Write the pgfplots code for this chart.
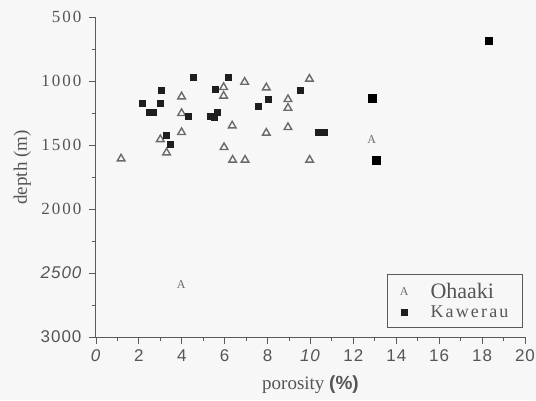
\documentclass[border=0pt]{standalone}
\usepackage{pgfplots}
\pgfplotsset{compat=1.18}
\usepackage{fontspec}
\setmainfont{Liberation Serif}
\setsansfont{Liberation Sans}
\newfontfamily\spaced[LetterSpace=12]{Liberation Serif}
\newfontfamily\spacedsans[LetterSpace=6]{Liberation Sans}
\definecolor{bgc}{HTML}{F7F7F7}
\definecolor{txt}{HTML}{555555}
\definecolor{axc}{HTML}{5A5A5A}
\definecolor{tri}{HTML}{6A6A6A}
\definecolor{sq}{HTML}{1E1E1E}
\pagecolor{bgc}
\begin{document}
\begin{tikzpicture}
\begin{axis}[
  scale only axis,
  width=429pt, height=320pt,
  xmin=0, xmax=20, ymin=500, ymax=3000,
  y dir=reverse,
  axis lines=left,
  axis line style={-, axc, line width=1pt},
  clip=false,
  tick align=outside,
  tick style={axc, line width=0.9pt},
  major tick length=7pt, minor tick length=4pt,
  xtick={0,2,...,20},
  minor x tick num=1,
  xticklabels={\textit{0},2,4,6,8,\textit{10},12,14,16,18,20},
  ytick={500,1000,...,3000},
  minor y tick num=1,
  yticklabels={{\spaced 500},{\spaced 1000},{\spaced 1500},{\spaced 2000},{\spacedsans\itshape 2500},{\spacedsans 3000}},
  xticklabel style={font=\fontsize{17}{20}\selectfont\spacedsans, text=txt, yshift=-2pt},
  yticklabel style={font=\fontsize{17}{20}\selectfont, text=txt, xshift=-4pt},
  xlabel={porosity {\sffamily\bfseries(\%)}},
  ylabel={depth (m)},
  xlabel style={font=\fontsize{19}{22}\selectfont, text=txt, at={(axis description cs:0.5,-0.15)}, anchor=center},
  ylabel style={font=\fontsize{19}{22}\selectfont, text=txt, at={(axis description cs:-0.172,0.53)}, anchor=center},
  legend style={at={(rel axis cs:0.995,0.028)}, anchor=south east, draw=axc, line width=0.8pt, fill=bgc, text=txt, font=\fontsize{22}{24}\selectfont, inner xsep=12pt, inner ysep=7pt, row sep=1pt},
  legend cell align=left,
]
% Ohaaki points drawn as letter A
\addplot[only marks, mark=text, text mark={\textcolor{tri}{\fontsize{12}{12}\selectfont A}}] coordinates {
 (12.85,1456) (3.97,2588)
};
\addlegendentry{\hspace{20pt}Ohaaki}
% Ohaaki triangles
\addplot[only marks, mark=triangle, mark size=4.4pt, mark options={draw=tri, line width=1.4pt, fill=none}, forget plot] coordinates {
 (1.17,1607) (3.99,1122) (3.99,1252) (3.99,1401) (3.00,1456) (3.29,1560)
 (5.95,1049) (5.95,1117) (6.93,1008) (7.94,1052) (6.35,1349) (5.97,1518)
 (6.37,1617) (6.95,1617) (7.94,1406) (9.95,984) (8.95,1143) (8.95,1211)
 (8.95,1362) (9.96,1617)
};
% Kawerau squares
\addplot[only marks, mark=square*, mark size=3pt, mark options={draw=sq, fill=sq}] coordinates {
 (4.54,971) (6.14,969) (3.06,1068) (5.56,1063) (2.14,1177) (2.98,1177)
 (2.47,1240) (2.67,1240) (4.32,1276) (5.31,1273) (5.52,1284) (5.66,1247)
 (7.54,1195) (8.05,1143) (3.26,1422) (3.46,1492) (9.52,1073)
 (10.35,1401) (10.65,1401)
};
\addlegendentry{{\hspace{20pt}\spaced\fontsize{18}{20}\selectfont Kawerau}}
\addplot[only marks, mark=square*, mark size=3.8pt, mark options={draw=black, fill=black}, forget plot] coordinates {
 (18.31,685) (12.87,1133) (13.07,1617)
};
\path (rel axis cs:0,0) ++(-96pt,-63pt) coordinate (bbl);
\path (rel axis cs:1,1) ++(11pt,17pt) coordinate (btr);
\end{axis}
\pgfresetboundingbox
\useasboundingbox (bbl) rectangle (btr);
\end{tikzpicture}
\end{document}
